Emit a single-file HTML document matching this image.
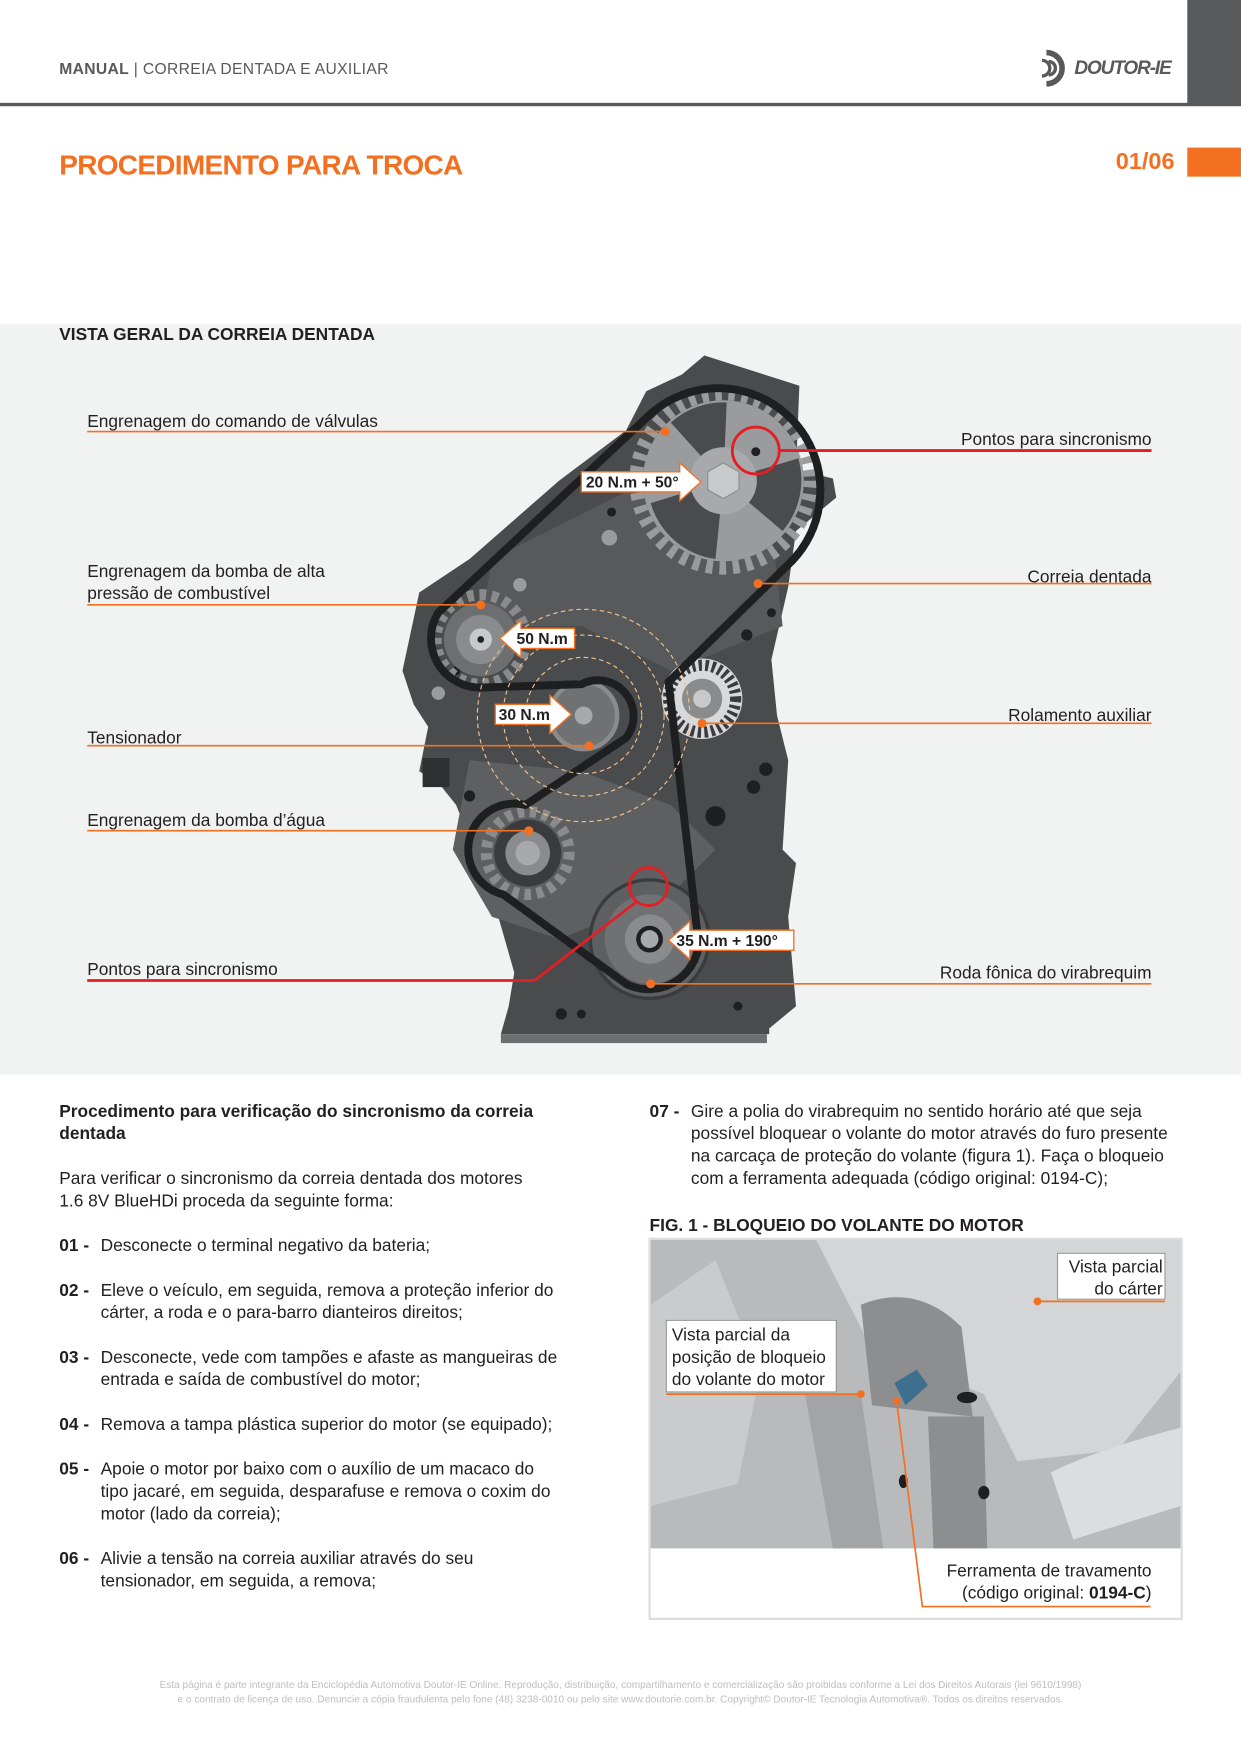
<!DOCTYPE html>
<html><head><meta charset="utf-8">
<style>
html,body{margin:0;padding:0;background:#fff;}
body{width:1241px;height:1754px;overflow:hidden;position:relative;}
#p{position:absolute;left:0;top:0;width:1110px;height:1569px;transform:scale(1.118);transform-origin:0 0;font-family:"Liberation Sans",sans-serif;color:#231f20;}
.a{position:absolute;white-space:nowrap;}
.t{font-size:15.5px;line-height:20px;}
.li{position:absolute;font-size:15.5px;line-height:20px;white-space:nowrap;}
.li b{font-weight:bold;display:inline-block;width:37px;}
.li span{display:inline-block;width:37px;}
</style></head><body>
<div id="p">
<div class="a" style="left:53px;top:53px;font-size:14px;color:#58595b;letter-spacing:0.3px"><b>MANUAL</b> | CORREIA DENTADA E AUXILIAR</div>
<div style="position:absolute;left:1062px;top:0;width:48px;height:93px;background:#58595b"></div>
<div style="position:absolute;left:0;top:92px;width:1110px;height:3px;background:#58595b"></div>
<svg style="position:absolute;left:928px;top:44px" width="30" height="34" viewBox="0 0 30 34"><path d="M8 3 A14 14 0 1 1 8 31" fill="none" stroke="#58595b" stroke-width="5"/><path d="M4 10 A7 7 0 0 1 4 24" fill="none" stroke="#58595b" stroke-width="3"/><path d="M10 11 A6 6 0 0 1 10 23" fill="none" stroke="#58595b" stroke-width="3"/></svg>
<div class="a" style="left:961px;top:51px;font-size:17px;font-weight:bold;font-style:italic;color:#58595b;letter-spacing:-1px">DOUTOR-IE</div>
<div class="a" style="left:53px;top:134px;font-size:25px;font-weight:bold;color:#f37021;letter-spacing:-0.6px">PROCEDIMENTO PARA TROCA</div>
<div class="a" style="left:998px;top:133px;font-size:21px;font-weight:bold;color:#f37021">01/06</div>
<div style="position:absolute;left:1062px;top:132px;width:48px;height:26px;background:#f37021"></div>

<div style="position:absolute;left:0;top:290px;width:1110px;height:671px;background:#f1f2f2"></div>
<div class="a" style="left:53px;top:291px;font-size:15.5px;font-weight:bold">VISTA GERAL DA CORREIA DENTADA</div>

<svg style="position:absolute;left:0;top:0" width="1110" height="1000" viewBox="0 0 1110 1000" font-family="Liberation Sans, sans-serif">
<path d="M630 318 L715 345 L712 420 L745 428 L748 445 L712 475 L705 525 L690 590 L695 640 L705 680 L700 760 L712 772 L705 820 L712 900 L688 920 L688 925 L448 925 L455 900 L460 870 L440 800 L408 720 L392 700 L375 690 L383 650 L370 630 L360 600 L375 530 L420 500 L500 430 L560 385 L578 350 L610 335 Z" fill="#4a4b4d"/>
<path d="M440 500 L560 440 L690 470 L700 560 L600 600 L520 560 L430 560 Z" fill="#58595b"/>
<path d="M420 680 L520 690 L600 720 L640 760 L600 800 L500 840 L440 820 L405 760 Z" fill="#5e5f61"/>
<rect x="448" y="925" width="238" height="8" fill="#6d6e70"/>
<rect x="378" y="678" width="24" height="26" fill="#2e2f31"/>
<g fill="#1e1f20">
<circle cx="668" cy="568" r="5"/><circle cx="640" cy="730" r="9"/><circle cx="685" cy="688" r="6"/><circle cx="674" cy="704" r="6"/><circle cx="502" cy="907" r="5"/><circle cx="520" cy="907" r="4"/><circle cx="690" cy="548" r="4"/><circle cx="547" cy="458" r="4"/><circle cx="408" cy="600" r="4"/><circle cx="420" cy="712" r="5"/><circle cx="660" cy="900" r="4"/>
</g>
<g fill="#9a9b9d"><circle cx="545" cy="481" r="7"/><circle cx="465" cy="523" r="6"/><circle cx="392" cy="620" r="6"/></g>
<circle cx="647" cy="430" r="78" fill="none" stroke="#9a9b9d" stroke-width="12" stroke-dasharray="6 6"/>
<circle cx="647" cy="430" r="72" fill="#9a9b9d"/>
<path d="M647 430 L600 378 A70 70 0 0 1 650 360 Z M647 430 L714 410 A70 70 0 0 1 700 475 Z M647 430 L640 500 A70 70 0 0 1 582 450 Z" fill="#4a4b4d"/>
<circle cx="647" cy="430" r="30" fill="#a7a9ac"/>
<polygon points="647,414 661,422 661,438 647,446 633,438 633,422" fill="#c8c9cb" stroke="#8a8b8d"/>
<circle cx="676" cy="404" r="4" fill="#1e1f20"/>
<circle cx="430" cy="572" r="40" fill="none" stroke="#8a8b8d" stroke-width="10" stroke-dasharray="6 5"/>
<circle cx="430" cy="572" r="33" fill="#6d6e70"/><circle cx="430" cy="572" r="22" fill="#8a8b8d"/><circle cx="430" cy="572" r="10" fill="#c8c9cb"/><circle cx="430" cy="572" r="3" fill="#222"/>
<circle cx="522" cy="640" r="30" fill="#707173" stroke="#8a8b8d" stroke-width="4"/><circle cx="522" cy="640" r="8" fill="#a7a9ac"/>
<circle cx="628" cy="625" r="36" fill="#d8d9da"/><circle cx="628" cy="625" r="30" fill="none" stroke="#3a3b3d" stroke-width="10" stroke-dasharray="3 3"/><circle cx="628" cy="625" r="18" fill="#8a8b8d"/><circle cx="628" cy="625" r="8" fill="#c8c9cb"/>
<circle cx="472" cy="763" r="37" fill="none" stroke="#8a8b8d" stroke-width="10" stroke-dasharray="6 5"/>
<circle cx="472" cy="763" r="30" fill="#3a3b3d"/><circle cx="472" cy="763" r="20" fill="#8a8b8d"/><circle cx="472" cy="763" r="11" fill="#a7a9ac"/>
<circle cx="581" cy="840" r="53" fill="#5e5f61" stroke="#3a3b3d" stroke-width="3"/><circle cx="581" cy="840" r="40" fill="#707173"/><circle cx="581" cy="840" r="22" fill="#8a8b8d"/><circle cx="581" cy="840" r="12" fill="#1e1f20"/><circle cx="581" cy="840" r="8" fill="#a7a9ac"/>
<path id="belt" d="M580 372 A82 82 0 1 1 705 505 L598 610 L625 845 A45 45 0 0 1 560 880 L450 800 A40 40 0 0 1 470 720 L560 660 A32 32 0 0 0 520 612 L430 615 A44 44 0 0 1 392 548 Z" fill="none" stroke="#1e1f20" stroke-width="7" stroke-linejoin="round"/>
<use href="#belt" fill="none" stroke="#1e1f20" stroke-width="14" stroke-dasharray="3 4"/>
<g fill="none" stroke="#f5c28e" stroke-width="1" stroke-dasharray="4 3"><circle cx="522" cy="640" r="52"/><circle cx="522" cy="640" r="72"/><circle cx="522" cy="640" r="95"/></g>
<g stroke="#f37021" stroke-width="1.5" fill="none">
<line x1="78" y1="386" x2="595" y2="386"/><line x1="78" y1="541" x2="430" y2="541"/><line x1="78" y1="667" x2="527" y2="667"/><line x1="78" y1="743" x2="473" y2="743"/>
<line x1="678" y1="522" x2="1030" y2="522"/><line x1="628" y1="647" x2="1030" y2="647"/><line x1="582" y1="880" x2="1030" y2="880"/>
</g>
<g fill="#f37021"><circle cx="595" cy="386" r="4"/><circle cx="430" cy="541" r="4"/><circle cx="527" cy="667" r="4"/><circle cx="473" cy="743" r="4"/><circle cx="678" cy="522" r="4"/><circle cx="628" cy="647" r="4"/><circle cx="582" cy="880" r="4"/></g>
<g stroke="#e31e24" stroke-width="2.5" fill="none">
<circle cx="676" cy="403" r="21"/><line x1="697" y1="403" x2="1030" y2="403"/>
<circle cx="580" cy="793" r="17"/><line x1="78" y1="877" x2="478" y2="877"/><line x1="478" y1="877" x2="570" y2="806"/>
</g>
<g stroke="#f37021" stroke-width="1.2" fill="#fff">
<path d="M520 422 L608 422 L608 414 L627 431 L608 448 L608 440 L520 440 Z"/>
<path d="M514 562 L466 562 L466 555 L447 571 L466 588 L466 580 L514 580 Z"/>
<path d="M443 630 L492 630 L492 622 L511 639 L492 656 L492 648 L443 648 Z"/>
<path d="M710 832 L617 832 L617 824 L598 841 L617 858 L617 850 L710 850 Z"/>
</g>
<g font-size="14" font-weight="bold" fill="#231f20">
<text x="524" y="436">20 N.m + 50°</text><text x="462" y="576">50 N.m</text><text x="446" y="644">30 N.m</text><text x="605" y="846">35 N.m + 190°</text>
</g>
<g font-size="15.5" fill="#231f20">
<text x="78" y="382">Engrenagem do comando de válvulas</text>
<text x="78" y="516">Engrenagem da bomba de alta</text><text x="78" y="536">pressão de combustível</text>
<text x="78" y="665">Tensionador</text>
<text x="78" y="739">Engrenagem da bomba d’água</text>
<text x="78" y="872">Pontos para sincronismo</text>
<text x="1030" y="398" text-anchor="end">Pontos para sincronismo</text>
<text x="1030" y="521" text-anchor="end">Correia dentada</text>
<text x="1030" y="645" text-anchor="end">Rolamento auxiliar</text>
<text x="1030" y="875" text-anchor="end">Roda fônica do virabrequim</text>
</g>
</svg>

<div class="a t" style="left:53px;top:985px;font-weight:bold">Procedimento para verificação do sincronismo da correia<br>dentada</div>
<div class="a t" style="left:53px;top:1045px">Para verificar o sincronismo da correia dentada dos motores<br>1.6 8V BlueHDi proceda da seguinte forma:</div>
<div class="li" style="left:53px;top:1105px"><b>01 -</b>Desconecte o terminal negativo da bateria;</div>
<div class="li" style="left:53px;top:1145px"><b>02 -</b>Eleve o veículo, em seguida, remova a proteção inferior do<br><span></span>cárter, a roda e o para-barro dianteiros direitos;</div>
<div class="li" style="left:53px;top:1205px"><b>03 -</b>Desconecte, vede com tampões e afaste as mangueiras de<br><span></span>entrada e saída de combustível do motor;</div>
<div class="li" style="left:53px;top:1265px"><b>04 -</b>Remova a tampa plástica superior do motor (se equipado);</div>
<div class="li" style="left:53px;top:1305px"><b>05 -</b>Apoie o motor por baixo com o auxílio de um macaco do<br><span></span>tipo jacaré, em seguida, desparafuse e remova o coxim do<br><span></span>motor (lado da correia);</div>
<div class="li" style="left:53px;top:1385px"><b>06 -</b>Alivie a tensão na correia auxiliar através do seu<br><span></span>tensionador, em seguida, a remova;</div>
<div class="li" style="left:581px;top:985px"><b>07 -</b>Gire a polia do virabrequim no sentido horário até que seja<br><span></span>possível bloquear o volante do motor através do furo presente<br><span></span>na carcaça de proteção do volante (figura 1). Faça o bloqueio<br><span></span>com a ferramenta adequada (código original: 0194-C);</div>
<div class="a t" style="left:581px;top:1087px;font-weight:bold">FIG. 1 - BLOQUEIO DO VOLANTE DO MOTOR</div>

<svg style="position:absolute;left:580px;top:1107px" width="478" height="342" viewBox="0 0 478 342" font-family="Liberation Sans, sans-serif">
<rect x="1" y="1" width="476" height="340" fill="#fff" stroke="#dcddde" stroke-width="2"/>
<path d="M2 2 L476 2 L476 278 L2 278 Z" fill="#b9babc"/>
<path d="M150 2 L476 2 L476 120 L420 190 L330 200 L300 140 L200 100 Z" fill="#d4d5d7"/>
<path d="M190 60 Q240 40 280 80 L290 160 L200 150 Z" fill="#8d8e90"/>
<path d="M140 140 L190 140 L210 278 L165 278 Z" fill="#a3a4a6"/>
<path d="M250 160 L300 160 L303 278 L255 278 Z" fill="#8d8e90"/>
<path d="M2 60 L60 20 L100 120 L80 220 L2 240 Z" fill="#cacbcd"/>
<path d="M360 210 Q400 190 476 170 L476 240 L380 270 Z" fill="#dcddde"/>
<ellipse cx="285" cy="143" rx="9" ry="5" fill="#1e1f20"/>
<ellipse cx="228" cy="218" rx="4" ry="6" fill="#1e1f20"/><ellipse cx="300" cy="228" rx="5" ry="6" fill="#1e1f20"/>
<path d="M220 130 L240 118 L250 132 L230 150 Z" fill="#3f6f8f"/>
<rect x="16" y="74" width="152" height="64" fill="#fff" stroke="#888" stroke-width="0.8"/>
<text x="21" y="92" font-size="15.5" fill="#231f20">Vista parcial da</text>
<text x="21" y="112" font-size="15.5" fill="#231f20">posição de bloqueio</text>
<text x="21" y="132" font-size="15.5" fill="#231f20">do volante do motor</text>
<rect x="366" y="14" width="96" height="41" fill="#fff" stroke="#888" stroke-width="0.8"/>
<text x="460" y="31" font-size="15.5" fill="#231f20" text-anchor="end">Vista parcial</text>
<text x="460" y="51" font-size="15.5" fill="#231f20" text-anchor="end">do cárter</text>
<g stroke="#f37021" stroke-width="1.5" fill="none">
<line x1="16" y1="140" x2="190" y2="140"/><line x1="348" y1="57" x2="462" y2="57"/>
<polyline points="222,146 245,330 449,330"/>
</g>
<g fill="#f37021"><circle cx="190" cy="140" r="3.5"/><circle cx="348" cy="57" r="3.5"/><circle cx="222" cy="146" r="3.5"/></g>
<text x="450" y="303" font-size="15.5" fill="#231f20" text-anchor="end">Ferramenta de travamento</text>
<text x="450" y="323" font-size="15.5" fill="#231f20" text-anchor="end">(código original: <tspan font-weight="bold">0194-C</tspan>)</text>
</svg>

<div class="a" style="left:0;width:1110px;top:1501px;text-align:center;font-size:9px;line-height:13px;color:#bcbec0">Esta página é parte integrante da Enciclopédia Automotiva Doutor-IE Online. Reprodução, distribuição, compartilhamento e comercialização são proibidas conforme a Lei dos Direitos Autorais (lei 9610/1998)<br>e o contrato de licença de uso. Denuncie a cópia fraudulenta pelo fone (48) 3238-0010 ou pelo site www.doutorie.com.br. Copyright© Doutor-IE Tecnologia Automotiva®. Todos os direitos reservados.</div>
</div>
</body></html>
